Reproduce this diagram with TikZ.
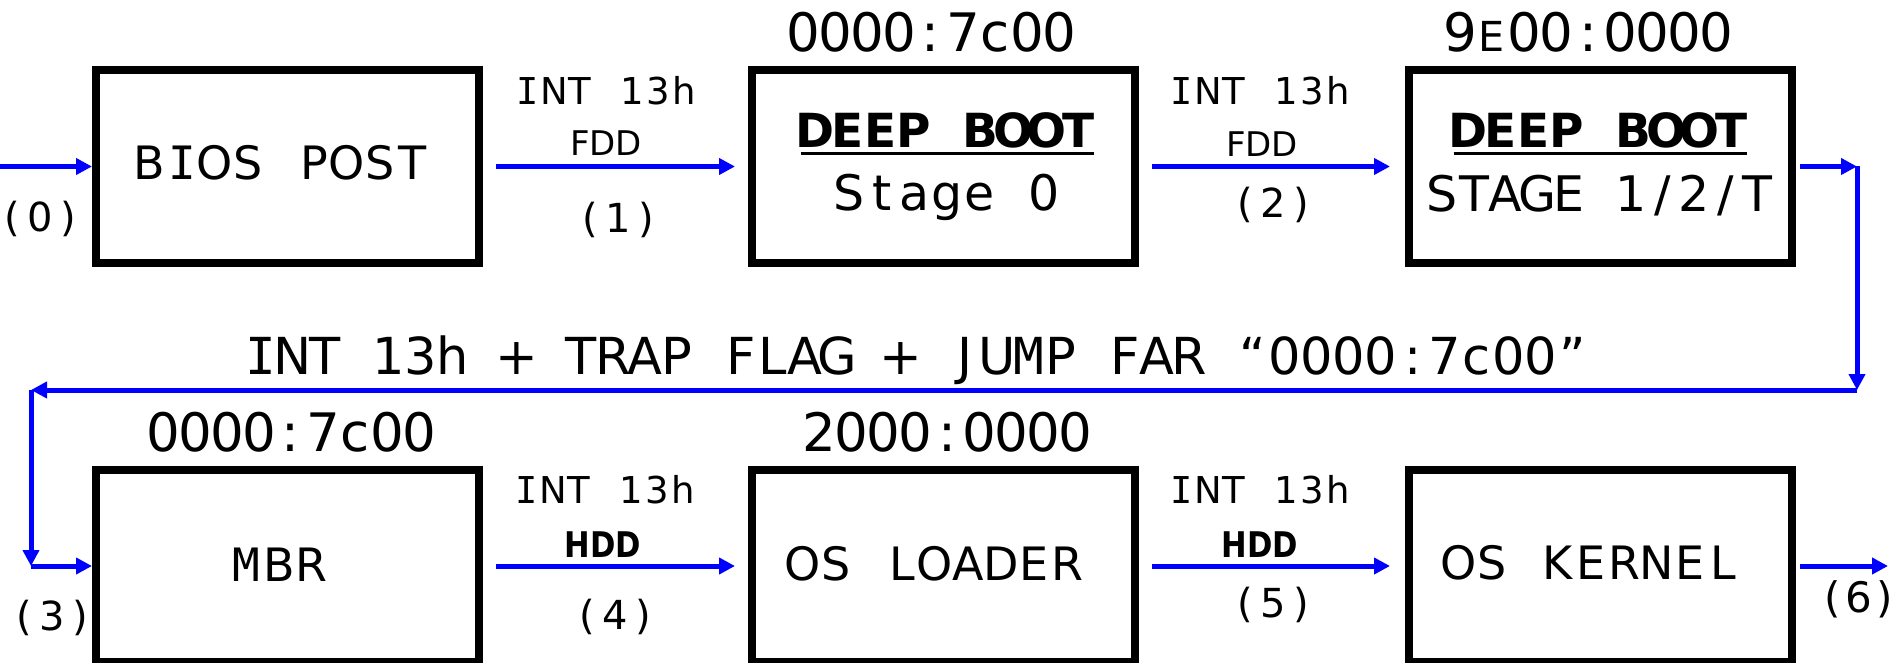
\documentclass[tikz,border=0pt]{standalone}
\usepackage{fontspec}
\usepackage{graphicx}
\usetikzlibrary{arrows.meta}

\newfontfamily\monof{DejaVu Sans Mono}
\newfontfamily\zfont{DejaVu Sans}
\newfontfamily\sansf{DejaVu Sans}

% fixed-pitch setting: every character sits in a cell of width #1;
% glyphs come from the proportional face, except the narrow-cell
% letters I, M and W, which come from the monospaced face
\ExplSyntaxOn
\NewDocumentCommand\mt{ m m }
 {
  \str_map_inline:nn {#2}
   {
    \makebox[#1][c]
     {
      \str_case:nnF {##1}
       {
        {I} { \monof I }
        {M} { \monof M }
        {W} { \monof W }
       }
       { \zfont ##1 }
     }
   }
 }
\ExplSyntaxOff

% heavy underline, inset by #1 on both sides
\newsavebox\ulsave
\newcommand\ulbox[2]{\sbox\ulsave{#2}%
  \rlap{\hspace*{#1}\rule[-7pt]{\dimexpr\wd\ulsave-#1-#1\relax}{3.2pt}}%
  \usebox\ulsave}

\newcommand\fntbox{\sansf\fontsize{46}{50}\selectfont}
\newcommand\fntsub{\sansf\fontsize{49}{54}\selectfont}
\newcommand\fnthead{\sansf\bfseries\fontsize{47}{50}\selectfont}
\newcommand\fntaddr{\sansf\fontsize{53}{58}\selectfont}
\newcommand\fntlong{\sansf\fontsize{51}{56}\selectfont}
\newcommand\fntint{\sansf\fontsize{37}{40}\selectfont}
\newcommand\fntdev{\sansf\fontsize{34}{38}\selectfont}
\newcommand\fntpar{\sansf\fontsize{40}{44}\selectfont}
\newcommand\fntparbig{\sansf\fontsize{42}{46}\selectfont}

\tikzset{
  stage/.style={draw=black, line width=8pt, minimum width=383pt,
    minimum height=192pt, inner sep=0pt},
  txt/.style={inner sep=0pt, outer sep=0pt, anchor=base},
  flow/.style={draw=blue, line width=5pt, -{Triangle[length=16pt,width=16pt]}},
}

\begin{document}
\begin{tikzpicture}[x=1pt, y=-1pt]
  \useasboundingbox (0,0) rectangle (1901,663);

  % stages
  \node[stage] (bios) at (287.5,166.5) {};
  \node[stage] (ds0)  at (943.5,166.5) {};
  \node[stage] (ds1)  at (1600.5,166.5) {};
  \node[stage] (mbr)  at (287.5,566) {};
  \node[stage] (osl)  at (943.5,566) {};
  \node[stage] (kern) at (1600.5,566) {};

  % routing points
  \coordinate (in0)  at (0,166.5);
  \coordinate (c1)   at (1857,166.5);
  \coordinate (c2)   at (1857,390);
  \coordinate (c3)   at (31,390);
  \coordinate (c4)   at (31,566);
  \coordinate (out6) at (1888,566);

  % connectors
  \draw[flow] (in0) -- (bios.west);
  \draw[flow, shorten <=13pt, shorten >=13pt] (bios.east) -- (ds0.west);
  \draw[flow, shorten <=13pt, shorten >=15pt] (ds0.east) -- (ds1.west);
  \draw[flow, shorten <=4pt] (ds1.east) -- (c1);
  \draw[flow] (c1) -- (c2);
  \draw[flow] (c2) -- (c3);
  \draw[flow] (c3) -- (c4);
  \draw[flow] (c4) -- (mbr.west);
  \draw[flow, shorten <=13pt, shorten >=13pt] (mbr.east) -- (osl.west);
  \draw[flow, shorten <=13pt, shorten >=15pt] (osl.east) -- (kern.west);
  \draw[flow, shorten <=4pt] (kern.east) -- (out6);

  % stage texts
  \node[txt, font=\fntbox] (t-bios) at (281,180) {\mt{33pt}{BIOS POST}};
  \node[txt, font=\fnthead] (t-ds0a) at (947,148) {\ulbox{2pt}{\mt{33pt}{DEEP BOOT}}};
  \node[txt, font=\fntsub] (t-ds0b) at (947,211) {\mt{32.5pt}{Stage 0}};
  \node[txt, font=\fnthead] (t-ds1a) at (1600,148) {\ulbox{2pt}{\mt{33pt}{DEEP BOOT}}};
  \node[txt, font=\fntsub] (t-ds1b) at (1600,212) {\mt{31.5pt}{STAGE 1/2/T}};
  \node[txt, font=\fntbox] (t-mbr) at (279,581) {\mt{33pt}{MBR}};
  \node[txt, font=\fntbox] (t-osl) at (935,580) {\mt{33pt}{OS LOADER}};
  \node[txt, font=\fntbox] (t-kern) at (1591,579) {\mt{33pt}{OS KERNEL}};

  % load addresses
  \node[txt, font=\fntaddr] (a-ds0) at (931,52) {\mt{32pt}{0000:7c00}};
  \node[txt, font=\fntaddr] (a-ds1) at (1588,52)
    {\mt{32pt}{9}\makebox[32pt]{\scalebox{0.78}{E}}\mt{32pt}{00:0000}};
  \node[txt, font=\fntaddr] (a-mbr) at (291,451) {\mt{32pt}{0000:7c00}};
  \node[txt, font=\fntaddr] (a-osl) at (947.5,451) {\mt{32pt}{2000:0000}};

  % return path label
  \node[txt, font=\fntlong] (l-jump) at (917,374)
    {\mt{32pt}{INT 13h + TRAP FLAG + JUMP FAR “0000:7c00”}};

  % connector labels
  \node[txt, font=\fntint] (l-int1) at (606,105) {\mt{26pt}{INT 13h}};
  \node[txt, font=\fntdev] (l-dev1) at (606,156) {FDD};
  \node[txt, font=\fntint] (l-int2) at (1260,105) {\mt{26pt}{INT 13h}};
  \node[txt, font=\fntdev] (l-dev2) at (1262,157) {FDD};
  \node[txt, font=\fntint] (l-int4) at (605,503) {\mt{26pt}{INT 13h}};
  \node[txt, font=\fntdev] (l-dev4) at (603,557) {\scalebox{0.9}[1.04]{\bfseries HDD}};
  \node[txt, font=\fntint] (l-int5) at (1260,503) {\mt{26pt}{INT 13h}};
  \node[txt, font=\fntdev] (l-dev5) at (1260,557) {\scalebox{0.9}[1.04]{\bfseries HDD}};

  % step numbers
  \node[txt, font=\fntpar] (l-n0) at (40.5,231.5) {\mt{28pt}{(0)}};
  \node[txt, font=\fntpar] (l-n1) at (618,232.5) {\mt{28pt}{(1)}};
  \node[txt, font=\fntpar] (l-n2) at (1273,217.5) {\mt{28pt}{(2)}};
  \node[txt, font=\fntpar] (l-n3) at (52,630) {\mt{28pt}{(3)}};
  \node[txt, font=\fntpar] (l-n4) at (615,629.5) {\mt{28pt}{(4)}};
  \node[txt, font=\fntpar] (l-n5) at (1273,617.5) {\mt{28pt}{(5)}};
  \node[txt, font=\fntparbig] (l-n6) at (1859,612) {\mt{26pt}{(6)}};
\end{tikzpicture}
\end{document}
